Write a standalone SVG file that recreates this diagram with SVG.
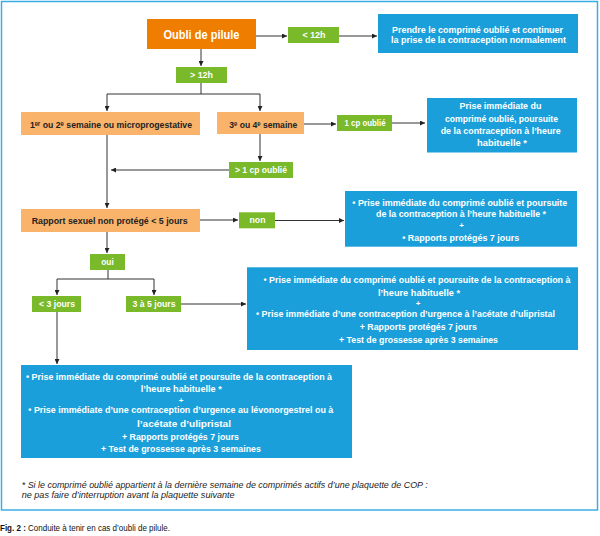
<svg xmlns="http://www.w3.org/2000/svg" width="600" height="536" viewBox="0 0 600 536">
<defs>
<style>
text{font-family:"Liberation Sans","DejaVu Sans",Arial,sans-serif}
.o{fill:#ef7d00}
.p{fill:#f9b36b}
.g{fill:#7ab929}
.b{fill:#1a9fda}
.tw{fill:#fff;font-weight:bold;font-size:9.5px;text-anchor:middle}
.td{fill:#222;font-weight:bold;font-size:9.5px;text-anchor:middle}
.plus{font-size:8px}
.fn{fill:#222;font-style:italic;font-size:8.5px}
.cap{fill:#111;font-size:8.5px}
.conn line,.conn polyline{stroke:#333;stroke-width:1;fill:none}
.arr{marker-end:url(#ah)}
</style>
<marker id="ah" viewBox="0 0 6 6" refX="6" refY="3" markerWidth="5" markerHeight="5" markerUnits="userSpaceOnUse" orient="auto">
<path d="M0,0 L6,3 L0,6 z" fill="#222"/>
</marker>
</defs>
<rect x="0" y="0" width="600" height="536" fill="#fff"/>
<rect x="1.5" y="1.5" width="596" height="508.5" fill="#fff" stroke="#3aaee4" stroke-width="1.5"/>

<g class="conn">
<line class="arr" x1="256" y1="36" x2="287" y2="36"/>
<line class="arr" x1="339" y1="36" x2="377" y2="36"/>
<line class="arr" x1="201" y1="49" x2="201" y2="66"/>
<polyline points="201,83 201,94"/>
<line x1="107" y1="94" x2="260" y2="94"/>
<line class="arr" x1="107" y1="94" x2="107" y2="111"/>
<line class="arr" x1="260" y1="94" x2="260" y2="111"/>
<line class="arr" x1="304" y1="124" x2="336" y2="124"/>
<line class="arr" x1="392" y1="123" x2="425" y2="123"/>
<line class="arr" x1="260" y1="134" x2="260" y2="161"/>
<line class="arr" x1="229" y1="170" x2="111" y2="170"/>
<line class="arr" x1="107" y1="135" x2="107" y2="208"/>
<line class="arr" x1="200" y1="220" x2="238" y2="220"/>
<line class="arr" x1="275" y1="220.5" x2="344" y2="220.5"/>
<line class="arr" x1="107" y1="232" x2="107" y2="253"/>
<polyline points="108,270 108,279"/>
<line x1="57" y1="279" x2="154" y2="279"/>
<line class="arr" x1="57" y1="279" x2="57" y2="295"/>
<line class="arr" x1="154" y1="279" x2="154" y2="295"/>
<line class="arr" x1="181" y1="304" x2="246" y2="304"/>
<line class="arr" x1="57" y1="312" x2="57" y2="364"/>
</g>

<g id="oubli">
<rect class="o" x="147" y="19" width="109" height="30"/>
<text class="tw" x="201.5" y="38.5" style="font-size:12px" textLength="76" lengthAdjust="spacingAndGlyphs">Oubli de pilule</text>
</g>
<g id="lt12">
<rect class="g" x="288" y="27" width="51" height="16"/>
<text class="tw" x="314" y="38.3" textLength="23" lengthAdjust="spacingAndGlyphs">&lt; 12h</text>
</g>
<g id="res1">
<rect class="b" x="378" y="14" width="200" height="39"/>
<text class="tw" x="477.5" y="32.6" textLength="171" lengthAdjust="spacingAndGlyphs">Prendre le comprimé oublié et continuer</text>
<text class="tw" x="478.5" y="43.3" textLength="175" lengthAdjust="spacingAndGlyphs">la prise de la contraception normalement</text>
</g>
<g id="gt12">
<rect class="g" x="176" y="67" width="51" height="16"/>
<text class="tw" x="201.5" y="78" textLength="23" lengthAdjust="spacingAndGlyphs">&gt; 12h</text>
</g>
<g id="sem12">
<rect class="p" x="21" y="112" width="179" height="23"/>
<text class="td" x="111" y="127.5" textLength="162" lengthAdjust="spacingAndGlyphs">1ᵉʳ ou 2ᵉ semaine ou microprogestative</text>
</g>
<g id="sem34">
<rect class="p" x="217" y="112" width="87" height="22"/>
<text class="td" x="263.3" y="127.5" textLength="68" lengthAdjust="spacingAndGlyphs">3ᵉ ou 4ᵉ semaine</text>
</g>
<g id="cp1">
<rect class="g" x="337" y="115" width="55" height="16"/>
<text class="tw" x="365" y="126.3" textLength="41" lengthAdjust="spacingAndGlyphs">1 cp oublié</text>
</g>
<g id="res2">
<rect class="b" x="427" y="98" width="150" height="54.5"/>
<text class="tw" x="500.5" y="109.3" textLength="82" lengthAdjust="spacingAndGlyphs">Prise immédiate du</text>
<text class="tw" x="501.5" y="121.5" textLength="113" lengthAdjust="spacingAndGlyphs">comprimé oublié, poursuite</text>
<text class="tw" x="500.7" y="133.7" textLength="120" lengthAdjust="spacingAndGlyphs">de la contraception à l’heure</text>
<text class="tw" x="502" y="145.9" textLength="50" lengthAdjust="spacingAndGlyphs">habituelle *</text>
</g>
<g id="cpn">
<rect class="g" x="229" y="162" width="64" height="16"/>
<text class="tw" x="261" y="173" textLength="52" lengthAdjust="spacingAndGlyphs">&gt; 1 cp oublié</text>
</g>
<g id="rapport">
<rect class="p" x="21" y="209" width="179" height="23"/>
<text class="td" x="109.7" y="223.6" textLength="156" lengthAdjust="spacingAndGlyphs">Rapport sexuel non protégé &lt; 5 jours</text>
</g>
<g id="non">
<rect class="g" x="239" y="212.3" width="36" height="16"/>
<text class="tw" x="257.5" y="223.3" textLength="16" lengthAdjust="spacingAndGlyphs">non</text>
</g>
<g id="res3">
<rect class="b" x="345" y="191" width="232" height="55.7"/>
<text class="tw" x="459.8" y="205.6" textLength="215" lengthAdjust="spacingAndGlyphs">• Prise immédiate du comprimé oublié et poursuite</text>
<text class="tw" x="461" y="216.6" textLength="170" lengthAdjust="spacingAndGlyphs">de la contraception à l’heure habituelle *</text>
<text class="tw plus" x="461.5" y="228.3">+</text>
<text class="tw" x="460.7" y="241" textLength="117" lengthAdjust="spacingAndGlyphs">• Rapports protégés 7 jours</text>
</g>
<g id="oui">
<rect class="g" x="90" y="254" width="35" height="16"/>
<text class="tw" x="107.5" y="265" textLength="12.5" lengthAdjust="spacingAndGlyphs">oui</text>
</g>
<g id="lt3">
<rect class="g" x="32" y="296" width="49" height="16"/>
<text class="tw" x="57" y="307.3" textLength="36" lengthAdjust="spacingAndGlyphs">&lt; 3 jours</text>
</g>
<g id="j35">
<rect class="g" x="126" y="296" width="55" height="16"/>
<text class="tw" x="154" y="307.3" textLength="43" lengthAdjust="spacingAndGlyphs">3 à 5 jours</text>
</g>
<g id="res4">
<rect class="b" x="247" y="267.3" width="331" height="82.7"/>
<text class="tw" x="417" y="283.3" textLength="307" lengthAdjust="spacingAndGlyphs">• Prise immédiate du comprimé oublié et poursuite de la contraception à</text>
<text class="tw" x="419" y="295.6" textLength="82" lengthAdjust="spacingAndGlyphs">l’heure habituelle *</text>
<text class="tw plus" x="418" y="305.5">+</text>
<text class="tw" x="405.5" y="317" textLength="299" lengthAdjust="spacingAndGlyphs">• Prise immédiate d’une contraception d’urgence à l’acétate d’ulipristal</text>
<text class="tw" x="418.3" y="330" textLength="117" lengthAdjust="spacingAndGlyphs">+ Rapports protégés 7 jours</text>
<text class="tw" x="418.5" y="342.6" textLength="159" lengthAdjust="spacingAndGlyphs">+ Test de grossesse après 3 semaines</text>
</g>
<g id="res5">
<rect class="b" x="21" y="365" width="331" height="93"/>
<text class="tw" x="179" y="380" textLength="306" lengthAdjust="spacingAndGlyphs">• Prise immédiate du comprimé oublié et poursuite de la contraception à</text>
<text class="tw" x="181.2" y="392.3" textLength="81" lengthAdjust="spacingAndGlyphs">l’heure habituelle *</text>
<text class="tw plus" x="181" y="402.5">+</text>
<text class="tw" x="180.8" y="413.3" textLength="305" lengthAdjust="spacingAndGlyphs">• Prise immédiate d’une contraception d’urgence au lévonorgestrel ou à</text>
<text class="tw" x="184" y="426.6" textLength="94" lengthAdjust="spacingAndGlyphs">l’acétate d’ulipristal</text>
<text class="tw" x="180.5" y="440" textLength="117" lengthAdjust="spacingAndGlyphs">+ Rapports protégés 7 jours</text>
<text class="tw" x="180.9" y="452.3" textLength="160" lengthAdjust="spacingAndGlyphs">+ Test de grossesse après 3 semaines</text>
</g>
<g id="footnote">
<text class="fn" x="21.7" y="487.5" textLength="406" lengthAdjust="spacingAndGlyphs">* Si le comprimé oublié appartient à la dernière semaine de comprimés actifs d’une plaquette de COP :</text>
<text class="fn" x="21.7" y="498.3" textLength="213" lengthAdjust="spacingAndGlyphs">ne pas faire d’interruption avant la plaquette suivante</text>
</g>
<g id="caption">
<text class="cap" x="0" y="530.7" textLength="170" lengthAdjust="spacingAndGlyphs"><tspan font-weight="bold">Fig. 2 :</tspan> Conduite à tenir en cas d’oubli de pilule.</text>
</g>
</svg>
